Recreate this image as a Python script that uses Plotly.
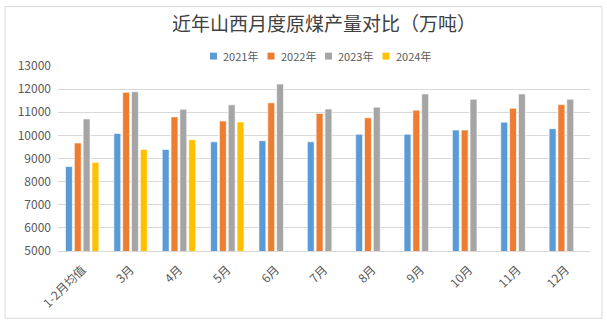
import plotly.graph_objects as go

categories = ["1-2月均值", "3月", "4月", "5月", "6月", "7月", "8月", "9月", "10月", "11月", "12月"]
y2021 = [8650, 10080, 9390, 9720, 9770, 9720, 10050, 10050, 10230, 10570, 10290]
y2022 = [9670, 11860, 10800, 10620, 11410, 10950, 10760, 11090, 10230, 11170, 11330]
y2023 = [10710, 11890, 11130, 11320, 12220, 11140, 11220, 11790, 11560, 11790, 11560]
y2024 = [8830, 9390, 9810, 10580, None, None, None, None, None, None, None]
series_names = ["2021年", "2022年", "2023年", "2024年"]
colors = ["#5B9BD5", "#ED7D31", "#A5A5A5", "#FFC000"]
y_ticks = [5000, 6000, 7000, 8000, 9000, 10000, 11000, 12000, 13000]

W, H = 607, 323
ML, MR, MT, MB = 58, 17, 66, 70

fig = go.Figure()
for name, vals, c in zip(series_names, [y2021, y2022, y2023, y2024], colors):
    fig.add_trace(go.Bar(x=categories, y=vals, name=name, showlegend=False,
                         marker=dict(color=c, line=dict(color="white", width=0.6))))

pw = W - ML - MR
ph = H - MT - MB
def px_x(p):
    return (p - ML) / pw
def px_y(p):
    return (H - MB - p) / ph

shapes = [dict(type="rect", xref="paper", yref="paper",
               x0=px_x(5), x1=px_x(602), y0=px_y(321), y1=px_y(6),
               line=dict(color="#D9D9D9", width=1), fillcolor="rgba(0,0,0,0)", layer="below")]
annotations = []
# custom compact legend (Excel style)
leg_x0, leg_step, leg_y = 210, 57.5, 56
for i, (name, c) in enumerate(zip(series_names, colors)):
    sx = leg_x0 + i * leg_step
    shapes.append(dict(type="rect", xref="paper", yref="paper",
                       x0=px_x(sx), x1=px_x(sx + 7), y0=px_y(leg_y + 3.5), y1=px_y(leg_y - 3.5),
                       line=dict(width=0), fillcolor=c))
    annotations.append(dict(text=name, xref="paper", yref="paper", x=px_x(sx + 11), y=px_y(leg_y),
                            xanchor="left", yanchor="middle", showarrow=False,
                            font=dict(family="Noto Sans CJK SC", size=11, color="#595959")))

fig.update_layout(
    width=W, height=H,
    margin=dict(l=ML, r=MR, t=MT, b=MB),
    paper_bgcolor="white", plot_bgcolor="white",
    barmode="group", bargap=0.27, bargroupgap=0.22,
    title=dict(text="近年山西月度原煤产量对比（万吨）", x=0.5, xref="paper", xanchor="center",
               y=1 - 24 / H, yanchor="middle",
               font=dict(family="Noto Sans CJK SC", size=19, color="#404040")),
    xaxis=dict(tickangle=-45, tickfont=dict(family="Noto Sans CJK SC", size=12, color="#595959"),
               showgrid=False, showline=True, linecolor="#D9D9D9", linewidth=1, ticks="",
               ticklabelstandoff=6),
    yaxis=dict(range=[5000, 13000], tickvals=y_ticks, ticktext=[str(v) for v in y_ticks],
               tickfont=dict(family="Noto Sans CJK SC", size=12, color="#595959"),
               showgrid=True, gridcolor="#D9D9D9", gridwidth=1, zeroline=False, showline=False,
               ticklabelstandoff=6),
    shapes=shapes,
    annotations=annotations,
    showlegend=False,
)
fig.write_html("out.html")
